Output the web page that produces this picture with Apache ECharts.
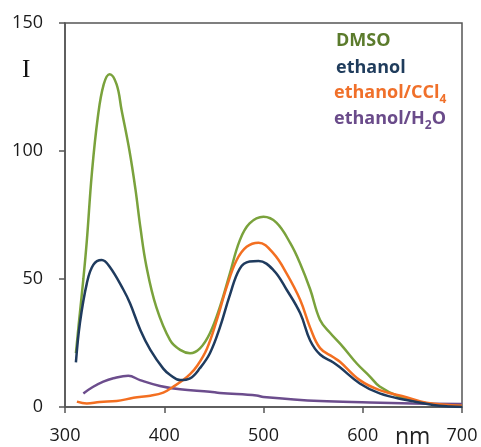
<!DOCTYPE html>
<html>
<head>
<meta charset="utf-8">
<script src="https://cdn.jsdelivr.net/npm/echarts@6/dist/echarts.min.js"></script>
<style>html,body{margin:0;padding:0;background:#fff}#c{width:481px;height:447px}</style>
</head>
<body>
<div id="c"></div>
<script>
// Wavelength (nm) and intensity per series
var dmsoX = [311, 314, 318.5, 322, 327, 333, 339, 345, 352, 357, 365, 371, 376, 382, 392, 406, 416, 426, 436, 446, 456, 466, 476, 486, 500, 513, 527, 537, 547, 557, 567, 580, 594, 607, 617, 637, 657, 678, 700];
var dmsoY = [21, 33, 50, 65, 91, 113, 126, 130, 126, 116, 100, 85, 70, 55, 39, 26, 22.3, 21, 22.9, 28.8, 39, 52, 65, 71.7, 74.3, 72, 64, 56, 46, 34, 29, 23.5, 17, 12, 8, 4, 2, 0.8, 0.4];

var ethX = [311, 315, 322, 328.5, 337, 345, 359, 365.5, 376, 386, 399, 406, 416, 426, 436, 446, 456, 466, 476, 486, 495, 510, 523.5, 537, 547, 557, 570, 577, 597, 617, 644, 671, 688, 700];
var ethY = [17.4, 32.7, 48.3, 55.5, 57.4, 54.8, 45.7, 40.5, 30, 22.3, 15, 12.5, 10.5, 11.2, 15.2, 21, 31, 43.6, 54, 56.8, 57, 53.5, 45.7, 36.6, 26, 20.5, 17.5, 15.5, 9.2, 5.3, 2.7, 0.8, 0.2, 0];

var cclX = [312, 322, 335, 352, 369, 386, 399, 409, 419, 426, 433, 443, 453, 463, 473, 483, 495, 510, 523.5, 537, 547, 557, 570, 577, 597, 617, 644, 664, 700];
var cclY = [2.1, 1.4, 2, 2.3, 3.6, 4.4, 5.6, 7.9, 10.5, 12.8, 16, 22.8, 34, 47, 57.4, 62.6, 64.2, 60, 52, 41.8, 31, 23, 19.5, 17.7, 10.5, 6.6, 3.8, 1.7, 0.5];

var h2oX = [318.5, 328, 338.6, 348.7, 363.8, 375.6, 395.7, 415.9, 446, 456, 493, 500, 557, 607, 650, 700];
var h2oY = [5.3, 7.8, 9.9, 11.2, 12.2, 10.5, 8.2, 6.9, 6, 5.5, 4.5, 3.9, 2.3, 1.8, 1.4, 1.2];

var xTicks = [300, 400, 500, 600, 700];
var yTicks = [0, 50, 100, 150];

var legendNames = ['DMSO', 'ethanol', 'ethanol/CCl', 'ethanol/H'];

function pairs(xs, ys) { return xs.map(function (x, i) { return [x, ys[i]]; }); }

var lineCol = ['#7aa23c', '#1f3b5e', '#f36f21', '#6c4d8d'];
var textCol = ['#5b7b2c', '#1f3c5c', '#f0702a', '#6a4b8a'];
var FONT = '"Open Sans", "Liberation Sans", sans-serif';

function mkSeries(xs, ys, c) {
  return { type: 'line', data: pairs(xs, ys), showSymbol: false, smooth: 0.4,
    lineStyle: { color: c, width: 2.5 }, itemStyle: { color: c }, z: 3 };
}

var chart = echarts.init(document.getElementById('c'), null, { renderer: 'canvas' });
var axisCol = '#555';
chart.setOption({
  backgroundColor: '#fff',
  animation: false,
  grid: { left: 65, right: 19, top: 23, bottom: 40, show: true, borderColor: axisCol, borderWidth: 1.5 },
  xAxis: {
    type: 'value', min: xTicks[0], max: xTicks[xTicks.length - 1], interval: 100,
    splitLine: { show: false },
    axisLine: { lineStyle: { color: axisCol, width: 1.5 } },
    axisTick: { show: true, inside: false, length: 6, lineStyle: { color: axisCol, width: 1.5 } },
    axisLabel: { margin: 20, fontSize: 18, fontFamily: FONT, color: '#1a1a1a', showMinLabel: true, showMaxLabel: true }
  },
  yAxis: {
    type: 'value', min: yTicks[0], max: yTicks[yTicks.length - 1], interval: 50,
    splitLine: { show: false },
    axisLine: { lineStyle: { color: axisCol, width: 1.5 } },
    axisTick: { show: true, inside: false, length: 6, lineStyle: { color: axisCol, width: 1.5 } },
    axisLabel: { margin: 22, fontSize: 18, fontFamily: FONT, color: '#1a1a1a' }
  },
  series: [
    mkSeries(h2oX, h2oY, lineCol[3]),
    mkSeries(dmsoX, dmsoY, lineCol[0]),
    mkSeries(cclX, cclY, lineCol[2]),
    mkSeries(ethX, ethY, lineCol[1])
  ],
  graphic: [
    { type: 'text', x: 22, y: 70, style: { text: 'I', fontSize: 25, fontFamily: '"Liberation Serif", "DejaVu Serif", serif', fill: '#111', verticalAlign: 'middle' } },
    { type: 'text', x: 395, y: 437, style: { text: 'nm', fontSize: 23, fontFamily: FONT, fill: '#222', verticalAlign: 'middle' } },
    { type: 'text', x: 336, y: 41, style: { text: legendNames[0], fontSize: 18, fontWeight: 'bold', fontFamily: FONT, fill: textCol[0], verticalAlign: 'middle' } },
    { type: 'text', x: 336, y: 68, style: { text: legendNames[1], fontSize: 18, fontWeight: 'bold', fontFamily: FONT, fill: textCol[1], verticalAlign: 'middle' } },
    { type: 'text', x: 334, y: 95, style: { text: '{m|' + legendNames[2] + '}{s|4}', verticalAlign: 'middle',
        rich: { m: { fontSize: 18, fontWeight: 'bold', fontFamily: FONT, fill: textCol[2], verticalAlign: 'bottom', padding: [0, 0, 4, 0] },
                s: { fontSize: 12, fontWeight: 'bold', fontFamily: FONT, fill: textCol[2], verticalAlign: 'bottom' } } } },
    { type: 'text', x: 334, y: 121, style: { text: '{m|' + legendNames[3] + '}{s|2}{m|O}', verticalAlign: 'middle',
        rich: { m: { fontSize: 18, fontWeight: 'bold', fontFamily: FONT, fill: textCol[3], verticalAlign: 'bottom', padding: [0, 0, 4, 0] },
                s: { fontSize: 12, fontWeight: 'bold', fontFamily: FONT, fill: textCol[3], verticalAlign: 'bottom' } } } }
  ]
});
</script>
</body>
</html>
